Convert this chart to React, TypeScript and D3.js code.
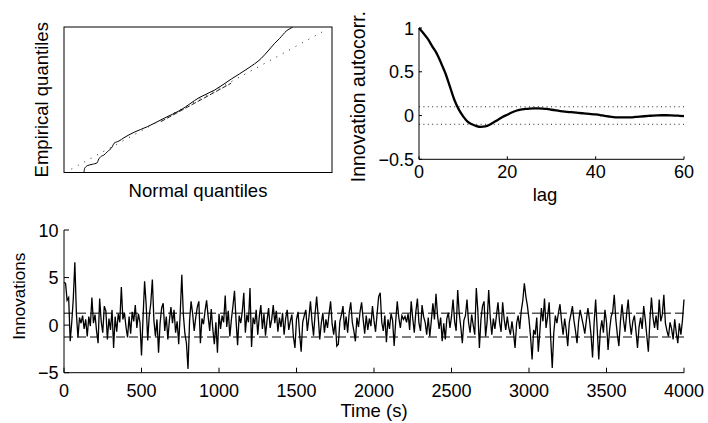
import React from "react";
import * as d3 from "d3";

// ---------- Data ----------
// Innovation time series, one sample every 10 s, 0..4000 s
const sampleInterval = 10;
const innovations = [
  4.5, 4.4, 2.6, 2.9, -1.7, 0.3, 2.8, 6.6, 1.2, -1.3, 0.8, 0.2, 1.0, -0.4, 0.6, -1.2, 0.9, -0.1, 2.9, 0.2,
  1.1, -0.6, -1.9, 2.8, 0.4, -0.8, 2.0, 1.5, -1.5, 0.7, -0.5, 1.6, -2.4, 0.9, -0.7, 1.2, 0.3, 4.0, 0.6, 1.3,
  -0.2, -1.3, 0.9, -0.9, 1.4, 0.4, 2.1, -0.3, 1.2, 0.3, -3.2, 0.8, 4.6, 2.2, -1.6, 1.0, 2.3, 4.8, 0.5, -1.2,
  0.6, -2.9, 0.2, 1.8, 2.3, -0.6, 0.9, -1.5, 0.5, 1.9, 0.2, 1.6, -0.8, 0.4, -2.0, 1.3, 5.3, 1.1, -0.9, -1.9,
  -4.6, 0.4, 2.5, 1.2, -0.6, 0.8, 1.9, 2.5, -1.9, 0.7, 0.1, 1.5, 2.6, 0.9, -0.6, 1.7, -0.4, -2.0, 0.3, -2.9,
  1.2, -0.4, 1.0, 0.3, 3.1, -0.2, 1.5, -1.2, 0.6, 2.0, 3.6, 0.5, -2.1, 1.0, 0.2, 1.4, 3.4, -0.8, 1.1, 0.3,
  3.9, -2.3, 0.8, 0.1, 1.6, -1.0, 0.9, 2.1, -0.4, 1.2, -1.1, 0.5, 1.8, -0.3, 0.6, 2.1, 0.2, 1.5, -0.7, 0.8,
  -0.2, 1.3, -1.0, 0.7, 1.6, -0.5, 0.4, 1.1, -1.2, -2.4, 0.6, 1.4, -0.9, -2.8, 0.3, 1.0, 1.6, -0.6, 0.8, 2.5,
  0.4, -1.1, 1.2, 3.0, 0.9, -1.5, 0.2, 1.3, -0.8, 0.6, -0.3, 1.2, 2.5, 0.1, -1.0, 0.5, -2.2, -2.0, 0.4, 1.1,
  2.0, -0.5, 0.9, -0.8, 1.3, 2.4, 0.3, -0.6, -1.7, 0.8, -0.2, 1.4, 2.4, 0.6, -0.9, 1.0, -0.5, 0.7, -0.1, 2.0,
  0.5, -0.7, 1.2, 3.0, 3.4, 0.3, -0.6, 1.0, -1.8, 0.6, -0.4, 1.2, 0.5, -2.2, 0.4, 2.5, 0.8, -0.3, 1.0, 0.6,
  0.9, 0.3, 1.2, -0.5, 2.5, 0.7, -0.8, 1.4, 2.8, 0.2, -0.6, 2.1, 0.9, 0.3, -1.0, 0.8, -1.2, 0.5, 2.3, 0.6,
  3.3, 1.0, -0.4, 0.8, -1.7, 0.2, -1.5, 0.7, 1.3, -0.3, 0.9, 2.7, 0.4, -0.6, 3.7, 1.2, -0.2, -1.9, 0.5, 1.0,
  2.7, 0.3, -0.8, 1.1, 0.0, -1.0, 3.9, 1.5, -2.4, 0.6, 2.0, 2.5, -1.2, 0.4, 3.7, 0.8, -1.0, 0.7, -0.4, 1.0,
  2.4, 0.3, -0.7, 2.4, 0.6, -0.5, 0.9, -0.3, -1.0, 0.4, -0.8, -2.4, 0.2, 1.0, -0.4, 1.5, 2.6, 4.4, 3.0, 2.0,
  0.6, -1.2, -3.6, -0.5, -1.0, 0.8, -2.8, -0.7, 1.8, 0.4, 2.8, -0.3, 0.9, 2.4, -1.4, -4.5, -0.8, 1.0, 0.2, 1.3,
  2.2, 0.4, -1.0, 0.7, -0.5, -2.2, 0.3, 1.1, 2.0, 0.5, -0.6, -1.9, 0.4, 1.6, 0.8, 0.0, -0.9, 0.5, 1.8, 0.6,
  -1.0, -3.4, 0.2, 2.7, -0.4, -3.6, -0.6, 0.5, -0.8, 1.6, 0.3, -2.6, -0.5, 0.9, 1.4, 3.2, 0.6, -1.0, -2.2, 0.4,
  2.2, 0.5, -0.7, 1.2, 2.7, 0.3, -1.0, 0.4, 1.0, -0.6, -2.4, -0.2, 0.8, -0.4, 2.0, 0.6, -1.1, -2.8, 0.5, 2.9,
  0.8, -0.3, 1.0, -0.5, 2.7, 0.4, 1.1, 3.2, 0.2, -0.6, -1.2, 0.3, -0.4, -1.5, 0.6, -0.8, -1.9, 0.2, -1.0, 0.5,
  2.7,
];
const innovationBand = [-1.25, 1.25];
const timeTicks = [0, 500, 1000, 1500, 2000, 2500, 3000, 3500, 4000];
const innovationTicks = [-5, 0, 5, 10];

// Autocorrelation of innovations, lags 0..60
const acfValues = [
  1.0, 0.94, 0.875, 0.79, 0.71, 0.6, 0.48, 0.33, 0.18, 0.07, -0.01, -0.07, -0.1, -0.12, -0.13, -0.125,
  -0.105, -0.075, -0.045, -0.015, 0.01, 0.035, 0.055, 0.068, 0.075, 0.08, 0.082, 0.082, 0.08, 0.075,
  0.066, 0.058, 0.051, 0.045, 0.04, 0.036, 0.031, 0.026, 0.021, 0.017, 0.012, 0.005, -0.004, -0.011,
  -0.017, -0.02, -0.021, -0.022, -0.02, -0.016, -0.012, -0.008, -0.004, 0.0, 0.002, 0.003, 0.003, 0.002,
  0.0, -0.003, -0.006,
];
const acfBounds = [-0.1, 0.1];
const lagTicks = [0, 20, 40, 60];
const acfTicks = [-0.5, 0, 0.5, 1];

// QQ plot (standardised units)
const qqNormal = [
  -3.418, -3.403, -3.382, -3.304, -3.155, -3.006, -2.976, -2.904, -2.806, -2.707, -2.558, -2.507, -2.358,
  -2.209, -1.91, -1.513, -1.015, -0.516, 0.03, 0.499, 0.994, 1.493, 1.89, 2.09, 2.29, 2.439, 2.636, 2.836,
  2.985,
];
const qqEmpirical = [
  -4.08, -3.956, -3.769, -3.626, -3.549, -3.461, -3.313, -3.131, -3.038, -2.857, -2.582, -2.395, -2.268,
  -2.087, -1.79, -1.482, -1.02, -0.564, 0.112, 0.535, 1.14, 1.728, 2.278, 2.68, 3.103, 3.378, 3.779, 4.015,
  4.27,
];
const qqRefNormal = [-3.78, 3.78];
const qqRefEmpirical = [-3.81, 3.8];
const qqQuartNormal = [-1.11, 0.99];
const qqQuartEmpirical = [-1.122, 0.992];

const FONT = "'Liberation Sans', Arial, Helvetica, sans-serif";
const fmt = d3.format("");

export default function App() {
  // ----- QQ panel -----
  const qx = d3.scaleLinear().domain([-4, 4]).range([64, 332]);
  const qy = d3.scaleLinear().domain([-4, 4]).range([172.5, 27]);
  const qqLine = d3
    .line<number>()
    .x((_, i) => qx(qqNormal[i]))
    .y((d) => qy(d))
    .curve(d3.curveMonotoneX);
  const refLine = d3
    .line<number>()
    .x((_, i) => qx(qqRefNormal[i]))
    .y((d) => qy(d));
  const quartLine = d3
    .line<number>()
    .x((_, i) => qx(qqQuartNormal[i]))
    .y((d) => qy(d));

  // ----- ACF panel -----
  const ax = d3.scaleLinear().domain([0, 60]).range([419, 684]);
  const ay = d3.scaleLinear().domain([-0.5, 1]).range([159.3, 28]);
  const acfLine = d3
    .line<number>()
    .x((_, i) => ax(i))
    .y((d) => ay(d))
    .curve(d3.curveMonotoneX);

  // ----- Time series panel -----
  const tx = d3.scaleLinear().domain([0, 4000]).range([64, 684]);
  const ty = d3.scaleLinear().domain([-5, 10]).range([372.7, 230]);
  const tsLine = d3
    .line<number>()
    .x((_, i) => tx(i * sampleInterval))
    .y((d) => ty(d));

  return (
    <svg
      width={708}
      height={423}
      style={{ position: "absolute", left: 0, top: 0, background: "#fff" }}
      fontFamily={FONT}
    >
      <defs>
        <clipPath id="qqclip">
          <rect x={qx(-4)} y={qy(4)} width={qx(4) - qx(-4)} height={qy(-4) - qy(4)} />
        </clipPath>
      </defs>

      {/* ================= QQ plot ================= */}
      <g>
        <g clipPath="url(#qqclip)">
          <path
            d={refLine(qqRefEmpirical) || ""}
            fill="none"
            stroke="#222"
            strokeWidth={1}
            strokeDasharray="1,6.3"
          />
          <path
            d={quartLine(qqQuartEmpirical) || ""}
            fill="none"
            stroke="#222"
            strokeWidth={1}
            strokeDasharray="5,2"
            transform="translate(0,1.5)"
          />
          <path d={qqLine(qqEmpirical) || ""} fill="none" stroke="#000" strokeWidth={1} />
        </g>
        <rect
          x={qx(-4)}
          y={qy(4)}
          width={qx(4) - qx(-4)}
          height={qy(-4) - qy(4)}
          fill="none"
          stroke="#000"
          strokeWidth={1}
        />
        <text x={(qx(-4) + qx(4)) / 2} y={196.5} fontSize={18.5} textAnchor="middle">
          Normal quantiles
        </text>
        <text
          transform={`translate(48,${(qy(-4) + qy(4)) / 2}) rotate(-90)`}
          fontSize={18.5}
          textAnchor="middle"
        >
          Empirical quantiles
        </text>
      </g>

      {/* ================= ACF ================= */}
      <g>
        {acfBounds.map((b) => (
          <line
            key={b}
            x1={ax(0)}
            x2={ax(60)}
            y1={ay(b)}
            y2={ay(b)}
            stroke="#222"
            strokeWidth={1}
            strokeDasharray="1,3.4"
          />
        ))}
        <path d={acfLine(acfValues) || ""} fill="none" stroke="#000" strokeWidth={2.3} />
        <line x1={ax(0)} x2={ax(0)} y1={ay(1)} y2={ay(-0.5)} stroke="#000" strokeWidth={1} />
        <line x1={ax(0)} x2={ax(60)} y1={ay(-0.5)} y2={ay(-0.5)} stroke="#000" strokeWidth={1} />
        {lagTicks.map((t) => (
          <g key={t}>
            <line x1={ax(t)} x2={ax(t)} y1={ay(-0.5)} y2={ay(-0.5) - 3} stroke="#000" />
            <text x={ax(t)} y={177.5} fontSize={18} textAnchor="middle">
              {fmt(t)}
            </text>
          </g>
        ))}
        {acfTicks.map((t) => (
          <g key={t}>
            <line x1={ax(0)} x2={ax(0) + 3} y1={ay(t)} y2={ay(t)} stroke="#000" />
            <text x={414} y={ay(t) + 6.5} fontSize={18} textAnchor="end">
              {fmt(t)}
            </text>
          </g>
        ))}
        <text x={545} y={201} fontSize={18.5} textAnchor="middle">
          lag
        </text>
        <text
          transform={`translate(365,${(ay(1) + ay(-0.5)) / 2 + 3}) rotate(-90)`}
          fontSize={19.5}
          textAnchor="middle"
        >
          Innovation autocorr.
        </text>
      </g>

      {/* ================= Time series ================= */}
      <g>
        {innovationBand.map((b) => (
          <line
            key={b}
            x1={tx(0)}
            x2={tx(4000)}
            y1={ty(b)}
            y2={ty(b)}
            stroke="#555"
            strokeWidth={1.4}
            strokeDasharray="9,4"
          />
        ))}
        <path d={tsLine(innovations) || ""} fill="none" stroke="#000" strokeWidth={1.3} />
        <line x1={tx(0)} x2={tx(0)} y1={ty(10)} y2={ty(-5)} stroke="#000" strokeWidth={1} />
        <line x1={tx(0)} x2={tx(4000)} y1={ty(-5)} y2={ty(-5)} stroke="#000" strokeWidth={1} />
        {timeTicks.map((t) => (
          <g key={t}>
            <line x1={tx(t)} x2={tx(t)} y1={ty(-5)} y2={ty(-5) - 5} stroke="#000" />
            <text x={tx(t)} y={396.5} fontSize={18} textAnchor="middle">
              {fmt(t)}
            </text>
          </g>
        ))}
        {innovationTicks.map((t) => (
          <g key={t}>
            <line x1={tx(0)} x2={tx(0) + 5} y1={ty(t)} y2={ty(t)} stroke="#000" />
            <text x={58.5} y={ty(t) + 6.5} fontSize={18} textAnchor="end">
              {fmt(t)}
            </text>
          </g>
        ))}
        <text x={(tx(0) + tx(4000)) / 2} y={417} fontSize={18.5} textAnchor="middle">
          Time (s)
        </text>
        <text
          transform={`translate(25,${(ty(10) + ty(-5)) / 2 - 5}) rotate(-90)`}
          fontSize={17}
          textAnchor="middle"
        >
          Innovations
        </text>
      </g>
    </svg>
  );
}
